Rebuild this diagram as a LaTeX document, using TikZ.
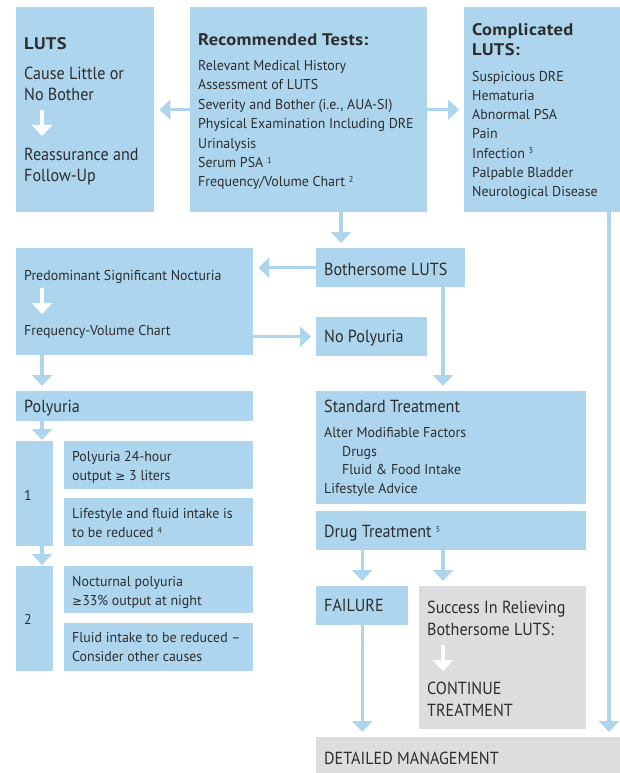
\documentclass[tikz,border=0pt]{standalone}
\usepackage{fontspec}
\setmainfont{PT Sans}[FakeStretch=0.92]
\newfontfamily\smallfont{PT Sans}[FakeStretch=0.975, Ligatures=TeX]
\newfontfamily\headfont{PT Sans}[FakeStretch=1.1, LetterSpace=2]
\newfontfamily\symbolfont{DejaVu Sans}
\usetikzlibrary{arrows.meta}

\definecolor{boxblue}{RGB}{173,214,238}
\definecolor{boxgrey}{RGB}{220,221,223}
\definecolor{ink}{RGB}{45,45,45}

\newcommand{\fnote}[1]{\ \raisebox{0.6ex}{\fontsize{8.5}{8.5}\selectfont #1}}
\newcommand{\geqsym}{{\symbolfont\fontsize{12}{12}\selectfont ≥}}

\tikzset{
  panel/.style={fill=boxblue, draw=none, inner sep=0pt, anchor=north west},
  greypanel/.style={panel, fill=boxgrey},
  conn/.style={draw=boxblue, line width=3.4pt,
    -{Triangle[width=20pt,length=11pt]}, shorten >=5pt},
  tightconn/.style={conn, shorten >=1pt},
  whitearrow/.style={draw=white, line width=3.4pt,
    -{Triangle[width=20pt,length=11pt]}},
  txt/.style={text=ink, inner sep=0pt, anchor=base west},
  sm/.style={txt, font=\smallfont\fontsize{14.3}{19.3}\selectfont},
  lg/.style={txt, font=\fontsize{17.5}{22}\selectfont},
  hd/.style={txt, font=\headfont\bfseries\fontsize{16.8}{20}\selectfont},
}

\begin{document}
\begin{tikzpicture}[x=1pt, y=-1pt]
\useasboundingbox (0,0) rectangle (620,773);

% ---- top row ----
\node[panel, minimum width=138pt, minimum height=205pt] (luts) at (16,7) {};
\node[panel, minimum width=237pt, minimum height=205pt] (rec) at (190,7) {};
\node[panel, minimum width=156pt, minimum height=205pt] (comp) at (464,7) {};

\node[hd] (lutsT) at (24,50) {LUTS};
\node[lg] (luts1) at (24,79.3) {Cause Little or};
\node[lg] (luts2) at (24,101) {No Bother};
\node[lg] (luts3) at (24,160) {Reassurance and};
\node[lg] (luts4) at (24,181.7) {Follow-Up};
\draw[whitearrow] (42,110) -- (42,136);

\node[hd] (recT) at (198,45.7) {Recommended Tests:};
\node[sm] (rec1) at (198,70.7) {Relevant Medical History};
\node[sm] (rec2) at (198,90) {Assessment of LUTS};
\node[sm] (rec3) at (198,109.4) {Severity and Bother (i.e., AUA-SI)};
\node[sm] (rec4) at (198,128.8) {Physical Examination Including DRE};
\node[sm] (rec5) at (198,148.2) {Urinalysis};
\node[sm] (rec6) at (198,167.5) {Serum PSA\fnote{1}};
\node[sm] (rec7) at (198,186.8) {Frequency/Volume Chart\fnote{2}};

\node[hd] (compT1) at (472,36) {Complicated};
\node[hd] (compT2) at (472,56) {LUTS:};
\node[sm] (comp1) at (472,82) {Suspicious DRE};
\node[sm] (comp2) at (472,101) {Hematuria};
\node[sm] (comp3) at (472,120) {Abnormal PSA};
\node[sm] (comp4) at (472,139) {Pain};
\node[sm] (comp5) at (472,158) {Infection\fnote{3}};
\node[sm] (comp6) at (472,177.5) {Palpable Bladder};
\node[sm] (comp7) at (472,196.5) {Neurological Disease};

% ---- nocturia branch ----
\node[panel, minimum width=237pt, minimum height=107pt] (pred) at (16,248) {};
\node[sm] (pred1) at (24,280) {Predominant Significant Nocturia};
\node[sm] (pred2) at (24,335.7) {Frequency-Volume Chart};
\draw[whitearrow] (42,288) -- (42,314);

\node[panel, minimum width=237pt, minimum height=30pt] (poly) at (16,391) {};
\node[lg] (polyT) at (24,412.7) {Polyuria};

\node[panel, minimum width=37pt, minimum height=105pt] (one) at (16,441) {};
\node[sm] (oneT) at (24,500) {1};
\node[panel, minimum width=189pt, minimum height=48pt] (p1a) at (64,441) {};
\node[sm] (p1a1) at (72,461.7) {Polyuria 24-hour};
\node[sm] (p1a2) at (72,480.7) {output \geqsym{} 3 liters};
\node[panel, minimum width=189pt, minimum height=48pt] (p1b) at (64,498) {};
\node[sm] (p1b1) at (72,518.3) {Lifestyle and fluid intake is};
\node[sm] (p1b2) at (72,537.3) {to be reduced\fnote{4}};

\node[panel, minimum width=37pt, minimum height=105pt] (two) at (16,566) {};
\node[sm] (twoT) at (24,624) {2};
\node[panel, minimum width=189pt, minimum height=47pt] (p2a) at (64,566) {};
\node[sm] (p2a1) at (72,586) {Nocturnal polyuria};
\node[sm] (p2a2) at (72,605.7) {\geqsym33\% output at night};
\node[panel, minimum width=189pt, minimum height=48pt] (p2b) at (64,623) {};
\node[sm] (p2b1) at (72,642.3) {Fluid intake to be reduced –};
\node[sm] (p2b2) at (72,661) {Consider other causes};

% ---- bothersome branch ----
\node[panel, minimum width=149pt, minimum height=39pt] (bother) at (316,248) {};
\node[lg] (botherT) at (324,275) {Bothersome LUTS};

\node[panel, minimum width=111pt, minimum height=39pt] (nopoly) at (316,317) {};
\node[lg] (nopolyT) at (324,342.7) {No Polyuria};

\node[panel, minimum width=270pt, minimum height=113pt] (std) at (316,391) {};
\node[lg] (std0) at (324,412.7) {Standard Treatment};
\node[sm] (std1) at (324,437.3) {Alter Modifiable Factors};
\node[sm] (std2) at (342,456.7) {Drugs};
\node[sm] (std3) at (342,474.5) {Fluid \& Food Intake};
\node[sm] (std4) at (324,493.3) {Lifestyle Advice};

\node[panel, minimum width=270pt, minimum height=39pt] (drug) at (316,511) {};
\node[lg] (drugT) at (324,537.3) {Drug Treatment\fnote{5}};

\node[panel, minimum width=92pt, minimum height=39pt] (fail) at (316,586) {};
\node[lg] (failT) at (324,611.7) {FAILURE};

\node[greypanel, minimum width=167pt, minimum height=143pt] (succ) at (419,586) {};
\node[lg] (succ1) at (427,613.3) {Success In Relieving};
\node[lg] (succ2) at (427,635) {Bothersome LUTS:};
\node[lg] (succ3) at (427,694) {CONTINUE};
\node[lg] (succ4) at (427,716) {TREATMENT};
\draw[whitearrow] (443,645) -- (443,671);

\node[greypanel, minimum width=304pt, minimum height=36pt] (detail) at (316,737) {};
\node[lg] (detailT) at (324,764) {DETAILED MANAGEMENT};

% ---- lanes for vertical connectors ----
\coordinate (laneL) at (42,0);
\coordinate (laneA) at (341,0);
\coordinate (laneB) at (443,0);
\coordinate (laneR) at (609,0);

% ---- connectors ----
\draw[conn] (rec.west) -- (luts.east);
\draw[conn] (rec.east) -- (comp.west);
\draw[conn] (rec.south -| laneA) -- (bother.north -| laneA);
\draw[conn] (bother.west) -- (bother.west -| pred.east);
\draw[conn] (pred.east |- nopoly.west) -- (nopoly.west);
\draw[conn] (bother.south -| laneB) -- (std.north -| laneB);
\draw[conn] (pred.south -| laneL) -- (poly.north -| laneL);
\draw[tightconn] (poly.south -| laneL) -- (one.north -| laneL);
\draw[tightconn] (one.south -| laneL) -- (two.north -| laneL);
\draw[conn] (drug.south -| fail.north) -- (fail.north);
\draw[conn] (drug.south -| laneB) -- (succ.north -| laneB);
\draw[conn] (fail.south) -- (detail.north -| fail.south);
\draw[conn] (comp.south -| laneR) -- (detail.north -| laneR);
\end{tikzpicture}
\end{document}
